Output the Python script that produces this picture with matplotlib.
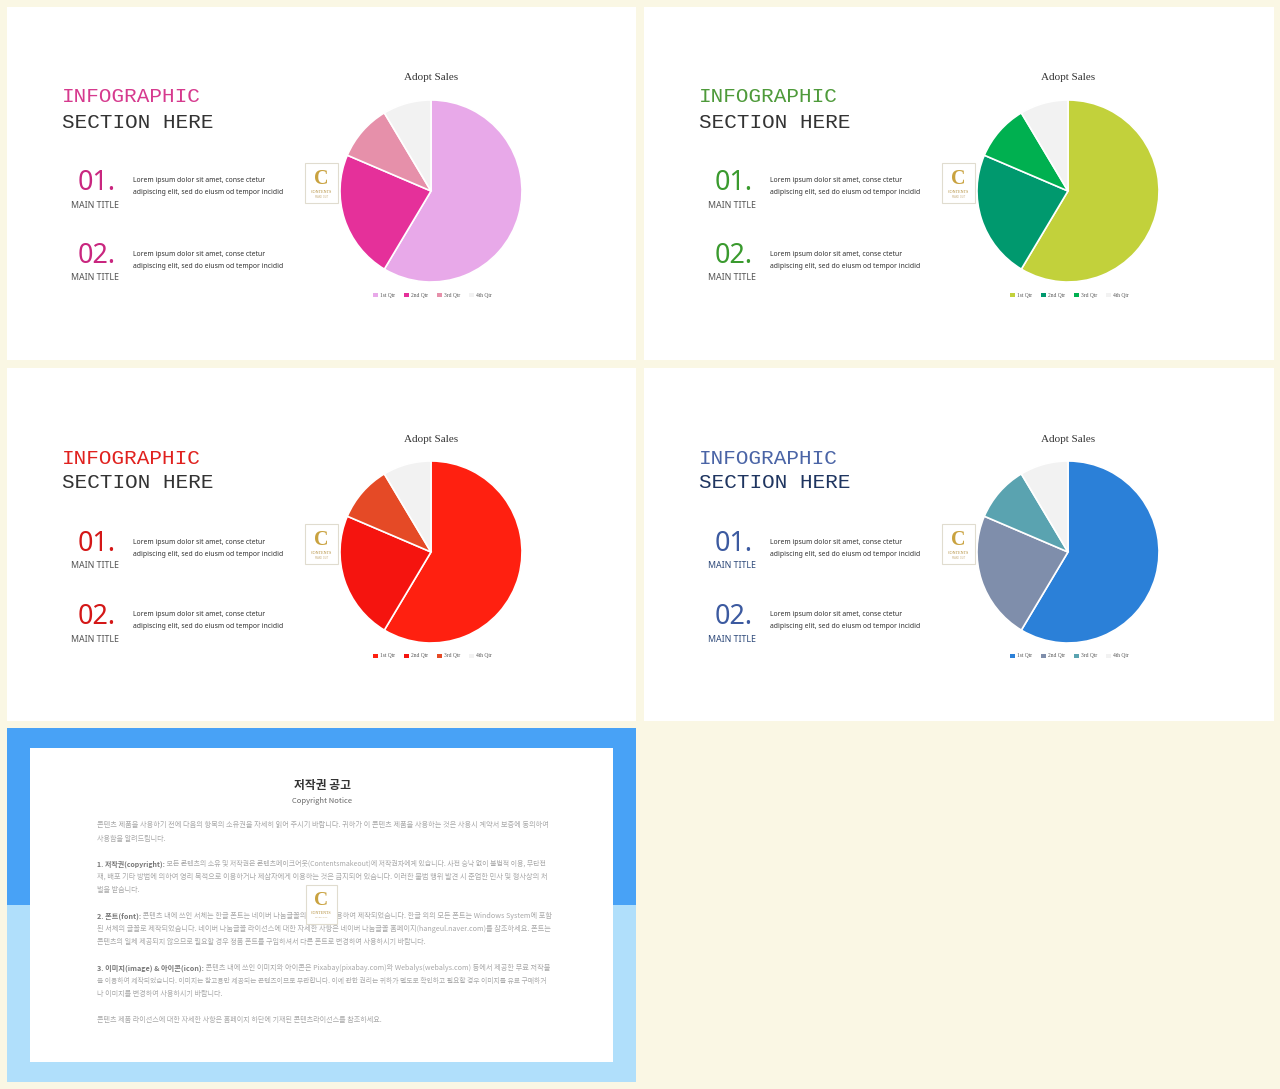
import matplotlib
matplotlib.use('Agg')
import matplotlib.pyplot as plt
from matplotlib.patches import Rectangle, Patch

# ---------------- data ----------------
quarters = ['1st Qtr', '2nd Qtr', '3rd Qtr', '4th Qtr']
sales = [8.2, 3.2, 1.4, 1.2]
chart_title = 'Adopt Sales'

heading_1 = 'INFOGRAPHIC'
heading_2 = 'SECTION HERE'
item_numbers = ['01.', '02.']
item_title = 'MAIN TITLE'
lorem_lines = ['Lorem ipsum dolor sit amet, conse ctetur',
               'adipiscing elit, sed do eiusm od tempor incidid']

pink_colors = ['#e8a9e9', '#e5309a', '#e690aa', '#f2f2f2']
green_colors = ['#c2d13b', '#00996e', '#00b050', '#f2f2f2']
red_colors = ['#ff2010', '#f5140f', '#e54a26', '#f2f2f2']
blue_colors = ['#2b80d8', '#7f8eab', '#5aa3b0', '#f2f2f2']

notice_title = '저작권 공고'
notice_sub = 'Copyright Notice'
notice_lines = [
    ('', '콘텐츠 제품을 사용하기 전에 다음의 항목의 소유권을 자세히 읽어 주시기 바랍니다. 귀하가 이 콘텐츠 제품을 사용하는 것은 사용시 계약서 보증에 동의하여', None),
    ('', '사용함을 알려드립니다.', 60),
    ('1. 저작권(copyright):', ' 모든 콘텐츠의 소유 및 저작권은 콘텐츠메이크어웃(Contentsmakeout)에 저작권자에게 있습니다. 사전 승낙 없이 불법적 이용, 무단전', None),
    ('', '재, 배포 기타 방법에 의하여 영리 목적으로 이용하거나 제삼자에게 이용하는 것은 금지되어 있습니다. 이러한 불법 행위 발견 시 준엄한 민사 및 형사상의 처', None),
    ('', '벌을 받습니다.', 43),
    ('2. 폰트(font):', ' 콘텐츠 내에 쓰인 서체는 한글 폰트는 네이버 나눔글꼴의 서체를 사용하여 제작되었습니다. 한글 외의 모든 폰트는 Windows System에 포함', None),
    ('', '된 서체의 글꼴로 제작되었습니다. 네이버 나눔글꼴 라이선스에 대한 자세한 사항은 네이버 나눔글꼴 홈페이지(hangeul.naver.com)를 참조하세요. 폰트는', None),
    ('', '콘텐츠의 일체 제공되지 않으므로 필요할 경우 정품 폰트를 구입하셔서 다른 폰트로 변경하여 사용하시기 바랍니다.', 333),
    ('3. 이미지(image) & 아이콘(icon):', ' 콘텐츠 내에 쓰인 이미지와 아이콘은 Pixabay(pixabay.com)와 Webalys(webalys.com) 등에서 제공한 무료 저작물', None),
    ('', '을 이용하여 제작되었습니다. 이미지는 참고용만 제공되는 콘텐츠이므로 무관합니다. 이에 관한 권리는 귀하가 별도로 확인하고 필요할 경우 이미지를 유료 구매하거', None),
    ('', '나 이미지를 변경하여 사용하시기 바랍니다.', 128),
    ('', '콘텐츠 제품 라이선스에 대한 자세한 사항은 홈페이지 하단에 기재된 콘텐츠라이선스를 참조하세요.', 290),
]
notice_y = [825, 839, 864, 877, 890, 916, 929, 942, 968, 981, 994, 1020]

# ---------------- figure ----------------
W, H = 1280, 1089
fig = plt.figure(figsize=(12.8, 10.89), dpi=100)
fig.patch.set_facecolor('#faf7e4')
bg = fig.add_axes([0, 0, 1, 1])
bg.set_xlim(0, W)
bg.set_ylim(H, 0)
bg.axis('off')
renderer = fig.canvas.get_renderer()

KR = ['Noto Sans CJK KR', 'DejaVu Sans']


def fit(x, y, s, width, fs=8, **kw):
    t = bg.text(x, y, s, fontsize=fs, **kw)
    w = t.get_window_extent(renderer).width
    t.set_fontsize(fs * width / w)
    return t


def logo(x0, y0, w, h):
    bg.add_patch(Rectangle((x0, y0), w, h, facecolor='white',
                           edgecolor='#e0dccf', lw=0.8, zorder=5))
    bg.text(x0 + w / 2, y0 + h * 0.40, 'C', ha='center', va='center',
            fontsize=h * 0.36, fontweight='bold', family='Liberation Serif',
            color='#c9a23f', zorder=6)
    bg.text(x0 + w / 2, y0 + h * 0.72, 'CONTENTS', ha='center', va='center',
            fontsize=h * 0.075, color='#b08a35', zorder=6,
            family='Liberation Serif')
    bg.text(x0 + w / 2, y0 + h * 0.84, 'MAKE OUT', ha='center', va='center',
            fontsize=h * 0.045, color='#c8b080', zorder=6)


panels = [
    # dx, dy, colors, accent, section colour, number colour, title colour
    (0, 0, pink_colors, '#d63a8e', '#333333', '#c9267f', '#555555'),
    (637, 0, green_colors, '#4e9a3a', '#333333', '#3a9a2e', '#555555'),
    (0, 361, red_colors, '#e0211e', '#333333', '#d41717', '#555555'),
    (637, 361, blue_colors, '#4a64a6', '#1f3560', '#3c5aa0', '#2f4a7a'),
]

for dx, dy, cols, accent, seccol, numcol, titcol in panels:
    bg.add_patch(Rectangle((7 + dx, 7 + dy), 629 + (1 if dx else 0), 353,
                           facecolor='white', edgecolor='none', zorder=0))
    fit(62 + dx, 97 + dy, heading_1, 139, fs=15, family='Liberation Mono',
        color=accent, va='center', ha='left')
    fit(62 + dx, 122 + dy, heading_2, 151, fs=15, family='Liberation Mono',
        color=seccol, va='center', ha='left')
    for k, ny in enumerate([181, 254]):
        fit(78 + dx, ny + 2 + dy, item_numbers[k], 38, fs=19,
            family='Noto Sans', color=numcol, va='center', ha='left')
        fit(71 + dx, ny + 24 + dy, item_title, 48, fs=6, family='Noto Sans',
            color=titcol, va='center', ha='left')
        fit(133 + dx, ny + dy, lorem_lines[0], 132, fs=5, family='Noto Sans',
            color='#333333', va='center', ha='left')
        fit(133 + dx, ny + 12 + dy, lorem_lines[1], 149, fs=5,
            family='Noto Sans', color='#333333', va='center', ha='left')
    logo(305 + dx, 163 + dy, 33, 40)

    # pie
    cx, cy, r = 431 + dx, 191 + dy, 91
    ax = fig.add_axes([(cx - r) / W, (H - cy - r) / H, 2 * r / W, 2 * r / H])
    wedges, _ = ax.pie(sales, colors=cols, startangle=90, counterclock=False,
                       wedgeprops=dict(edgecolor='white', linewidth=1.2))
    ax.set_xlim(-1.0, 1.0)
    ax.set_ylim(-1.0, 1.0)
    ax.set_aspect('equal')
    for wdg in wedges:
        wdg.set_clip_on(False)
    ax.text(0.5, 1 + 22 / 182, chart_title, transform=ax.transAxes,
            ha='center', va='center', fontsize=8,
            family='Liberation Serif', color='#333333')
    proxies = [Patch(facecolor=w.get_facecolor(), edgecolor='none')
               for w in wedges]
    ax.legend(proxies, quarters, loc='center', bbox_to_anchor=(0.51, -13 / 182),
              ncol=4, frameon=False, prop={'family': 'Liberation Serif',
                                           'size': 4},
              labelcolor='#555555', handlelength=0.75, handleheight=0.75,
              handletextpad=0.5, columnspacing=1.6, borderpad=0)

# ---------------- copyright panel ----------------
bg.add_patch(Rectangle((7, 728), 629, 177, facecolor='#48a2f6',
                       edgecolor='none', zorder=0))
bg.add_patch(Rectangle((7, 905), 629, 177, facecolor='#b0dffb',
                       edgecolor='none', zorder=0))
bg.add_patch(Rectangle((30, 748), 583, 314, facecolor='white',
                       edgecolor='none', zorder=1))
fit(322, 786, notice_title, 57, fs=8, family=KR, fontweight='bold',
    color='#333333', ha='center', va='center')
fit(322, 801, notice_sub, 60, fs=5.5, family=KR, color='#666666',
    ha='center', va='center')

full_w = 450
x0 = 97
drawn = []
sizes = []
for (bold, rest, wlim), ly in zip(notice_lines, notice_y):
    parts = []
    if bold:
        parts.append(bg.text(x0, ly, bold, fontsize=6, fontweight='bold',
                             color='#777777', family=KR, va='center',
                             ha='left'))
    parts.append(bg.text(x0, ly, rest, fontsize=6, color='#a8a8a8',
                         family=KR, va='center', ha='left'))
    drawn.append((parts, wlim))
    if wlim is None:
        tot = sum(p.get_window_extent(renderer).width for p in parts)
        sizes.append(6 * full_w / tot)

mean_fs = sum(sizes) / len(sizes)
for parts, wlim in drawn:
    if wlim is None:
        tot = sum(p.get_window_extent(renderer).width for p in parts)
        fs = 6 * full_w / tot
    else:
        fs = mean_fs
    cxp = x0
    for p in parts:
        p.set_fontsize(fs)
        p.set_x(cxp)
        cxp += p.get_window_extent(renderer).width

logo(306, 885, 31, 39)

fig.savefig('out.png', dpi=100, facecolor=fig.get_facecolor())
